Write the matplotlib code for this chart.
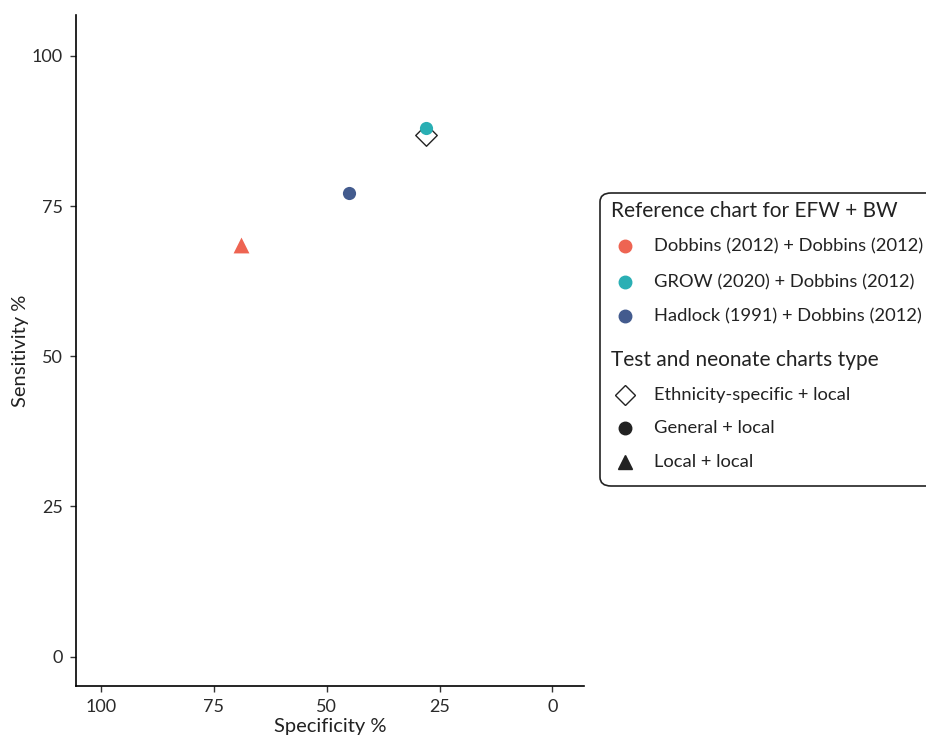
import matplotlib
matplotlib.use("Agg")
import matplotlib.pyplot as plt
from matplotlib.lines import Line2D
from matplotlib.patches import FancyBboxPatch

plt.rcParams["font.family"] = ["Lato", "DejaVu Sans"]

# test performance per chart combination
specificity = [69.0, 27.9, 45.0, 27.9]
sensitivity = [68.5, 88.0, 77.2, 86.9]
chart_type = ["Local + local", "General + local", "General + local", "Ethnicity-specific + local"]
reference = ["Dobbins (2012) + Dobbins (2012)", "GROW (2020) + Dobbins (2012)",
             "Hadlock (1991) + Dobbins (2012)", None]

ref_labels = ["Dobbins (2012) + Dobbins (2012)", "GROW (2020) + Dobbins (2012)",
              "Hadlock (1991) + Dobbins (2012)"]
ref_colors = ["#ee6452", "#2aafb4", "#435b8e"]
type_labels = ["Ethnicity-specific + local", "General + local", "Local + local"]
type_markers = {"Ethnicity-specific + local": "D", "General + local": "o", "Local + local": "^"}
type_sizes = {"Ethnicity-specific + local": 120, "General + local": 90, "Local + local": 130}
xticks = [100, 75, 50, 25, 0]
yticks = [0, 25, 50, 75, 100]

W, H = 926, 738
fig = plt.figure(figsize=(W / 100, H / 100), dpi=100)
ax = fig.add_axes([76 / W, 1 - 686 / H, 508 / W, 671 / H])

# hollow diamond first so the coloured circle sits on top
order = sorted(range(len(specificity)), key=lambda i: 0 if reference[i] is None else 1)
for i in order:
    m = type_markers[chart_type[i]]
    if reference[i] is None:
        ax.scatter(specificity[i], sensitivity[i], marker=m, s=type_sizes[chart_type[i]],
                   facecolor="white", edgecolor="#222222", linewidths=1.0, zorder=3)
    else:
        c = ref_colors[ref_labels.index(reference[i])]
        ax.scatter(specificity[i], sensitivity[i], marker=m, s=type_sizes[chart_type[i]],
                   color=c, linewidths=0, zorder=4)

ax.set_xlim(105.5, -7.0)
ax.set_ylim(-4.9, 106.8)
ax.set_xticks(xticks)
ax.set_yticks(yticks)
ax.tick_params(labelsize=13, length=4.5, width=1, color="#333333", labelcolor="#2a2a2a", pad=5)
for s in ("top", "right"):
    ax.spines[s].set_visible(False)
for s in ("left", "bottom"):
    ax.spines[s].set_linewidth(1.2)
ax.set_xlabel("Specificity %", fontsize=14.5, color="#222222", labelpad=2)
ax.set_ylabel("Sensitivity %", fontsize=14.5, color="#222222", labelpad=2)

# legend: rounded box with two titled groups
box = FancyBboxPatch((600 / W, 1 - 486 / H), 340 / W, 293 / H,
                     boxstyle="round,pad=0,rounding_size=0.012", transform=fig.transFigure,
                     facecolor="white", edgecolor="#222222", linewidth=1.2, clip_on=False)
fig.patches.append(box)


def fy(py):
    return 1 - py / H


def legend_row(py, label, **marker):
    fig.add_artist(Line2D([625 / W], [fy(py)], transform=fig.transFigure, ls="", **marker))
    fig.text(654 / W, fy(py), label, fontsize=13.2, color="#222222", va="center", ha="left")


fig.text(611 / W, fy(211), "Reference chart for EFW + BW", fontsize=15, color="#222222",
         va="center", ha="left")
for py, lab, col in zip([246, 282, 316], ref_labels, ref_colors):
    legend_row(py, lab, marker="o", color=col, markersize=9)

fig.text(611 / W, fy(360), "Test and neonate charts type", fontsize=15, color="#222222",
         va="center", ha="left")
type_handles = [dict(marker="D", markerfacecolor="white", markeredgecolor="#222222",
                     markersize=10, markeredgewidth=1.0),
                dict(marker="o", color="#222222", markersize=9),
                dict(marker="^", color="#222222", markersize=10.5)]
for py, lab, hd in zip([395, 428, 462], type_labels, type_handles):
    legend_row(py, lab, **hd)

fig.savefig("out.png", facecolor="white")
